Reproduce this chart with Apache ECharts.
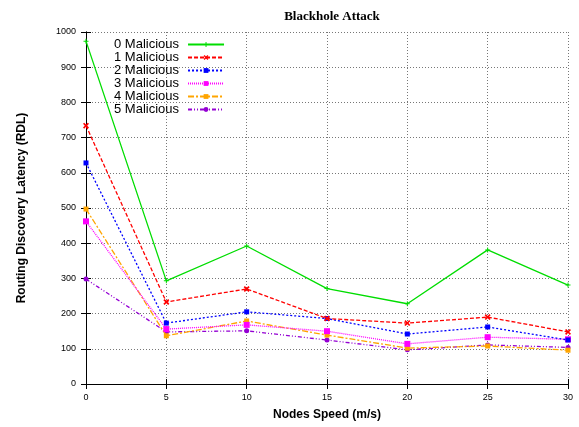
<!DOCTYPE html>
<html>
<head>
<meta charset="utf-8">
<script src="https://cdn.jsdelivr.net/npm/echarts@6/dist/echarts.min.js"></script>
<style>
  html, body { margin: 0; padding: 0; background: #fff; }
  #chart { width: 579px; height: 427px; }
</style>
</head>
<body>
<div id="chart"></div>
<script>
// Node speeds (m/s) on the x axis
const speeds = [0, 5, 10, 15, 20, 25, 30];

// Routing discovery latency per number of malicious nodes
const mal0 = [974, 293, 392, 271, 228, 381, 281];
const mal1 = [734, 233, 270, 186, 173, 190, 148];
const mal2 = [628, 173, 205, 186, 142, 162, 125];
const mal3 = [462, 156, 168, 150, 114, 133, 127];
const mal4 = [497, 137, 179, 139, 102, 108, 96];
const mal5 = [298, 148, 151, 125, 97, 111, 104];

const seriesNames = ['0 Malicious', '1 Malicious', '2 Malicious', '3 Malicious', '4 Malicious', '5 Malicious'];
const seriesValues = [mal0, mal1, mal2, mal3, mal4, mal5];

const styles = [
  { color: '#00dd00', dash: 'solid', symbol: 'path://M2,0H3V2H5V3H3V5H2V3H0V2H2Z', size: 5 },
  { color: '#ff0000', dash: [4, 2], symbol: 'path://M0,1L1,0L2.5,1.5L4,0L5,1L3.5,2.5L5,4L4,5L2.5,3.5L1,5L0,4L1.5,2.5Z', size: 6 },
  { color: '#0000ff', dash: [2, 2], symbol: 'rect', size: 5 },
  { color: '#ff00ff', dash: [1, 1], symbol: 'rect', size: 6 },
  { color: '#ffa500', dash: [6, 2, 2, 2], symbol: 'rect', size: 5 },
  { color: '#9400d3', dash: [4, 2, 1, 2, 1, 2], symbol: 'circle', size: 5 }
];

const series = seriesNames.map((name, i) => ({
  name: name,
  type: 'line',
  data: speeds.map((s, j) => [s, seriesValues[i][j]]),
  symbol: styles[i].symbol,
  symbolSize: styles[i].size,
  showSymbol: true,
  color: styles[i].color,
  itemStyle: { color: styles[i].color },
  lineStyle: { color: styles[i].color, width: 1.3, type: styles[i].dash },
  emphasis: { disabled: true },
  animation: false,
  z: 10 - i
}));

const chart = echarts.init(document.getElementById('chart'), null, { renderer: 'canvas' });

const tickLabel = { color: '#000', fontSize: 9, fontFamily: 'Liberation Sans, Arial, sans-serif', formatter: v => String(v) };
const inTicks = { show: true, inside: true, length: 5, lineStyle: { color: '#000', width: 1 } };

chart.setOption({
  backgroundColor: '#fff',
  animation: false,
  title: {
    text: 'Blackhole Attack',
    left: 327,
    top: 5,
    textAlign: 'center',
    textStyle: { fontFamily: 'Liberation Serif, Times New Roman, serif', fontWeight: 'bold', fontSize: 13, color: '#000' }
  },
  legend: {
    data: seriesNames,
    left: 114,
    top: 38,
    padding: 0,
    orient: 'vertical',
    align: 'right',
    itemWidth: 36,
    itemHeight: 6,
    itemGap: 0,
    textStyle: { fontSize: 13, lineHeight: 13, color: '#000', fontFamily: 'Liberation Sans, Arial, sans-serif', padding: [0, 4, 0, 0] },
    selectedMode: false
  },
  grid: { left: 86, right: 11, top: 32, bottom: 43, containLabel: false },
  xAxis: [
    {
      type: 'value', min: 0, max: 30, interval: 5,
      name: 'Nodes Speed (m/s)', nameLocation: 'middle', nameGap: 25,
      nameTextStyle: { fontSize: 12, fontWeight: 'bold', color: '#000', fontFamily: 'Liberation Sans, Arial, sans-serif' },
      axisLine: { show: true, lineStyle: { color: '#000', width: 1 } },
      axisTick: inTicks,
      axisLabel: Object.assign({ margin: 9 }, tickLabel),
      splitLine: { show: true, lineStyle: { color: '#777', width: 1, type: [1, 2] } }
    },
    {
      type: 'value', min: 0, max: 30, interval: 5, position: 'top',
      axisLine: { show: true, lineStyle: { color: '#000', width: 1 } },
      axisTick: inTicks,
      axisLabel: { show: false },
      splitLine: { show: false }
    }
  ],
  yAxis: [
    {
      type: 'value', min: 0, max: 1000, interval: 100,
      name: 'Routing Discovery Latency (RDL)', nameLocation: 'middle', nameGap: 58,
      nameTextStyle: { fontSize: 12, fontWeight: 'bold', color: '#000', fontFamily: 'Liberation Sans, Arial, sans-serif' },
      axisLine: { show: true, lineStyle: { color: '#000', width: 1 } },
      axisTick: inTicks,
      axisLabel: Object.assign({ margin: 10 }, tickLabel),
      splitLine: { show: true, lineStyle: { color: '#777', width: 1, type: [1, 2] } }
    },
    {
      type: 'value', min: 0, max: 1000, interval: 100, position: 'right',
      axisLine: { show: true, lineStyle: { color: '#000', width: 1 } },
      axisTick: inTicks,
      axisLabel: { show: false },
      splitLine: { show: false }
    }
  ],
  series: series
});
</script>
</body>
</html>
